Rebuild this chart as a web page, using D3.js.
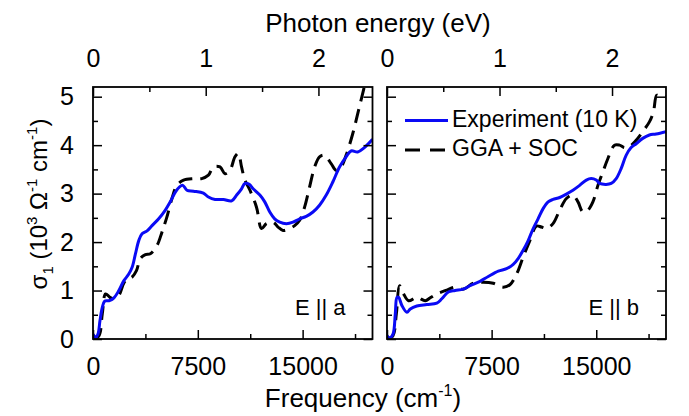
<!DOCTYPE html>
<html><head><meta charset="utf-8">
<script src="https://cdn.jsdelivr.net/npm/d3@7"></script>
<style>
html,body{margin:0;padding:0;background:#fff;}
text{font-family:"Liberation Sans",Arial,sans-serif;fill:#000;}
</style></head>
<body>
<svg id="chart" width="689" height="416"></svg>
<script>
// ---- data ----
const expA_x = [0,190,356,500,665,830,1140,1500,1850,2200,2560,2800,3040,3275,3510,3870,4225,4700,5175,5530,5890,6195,6430,6720,7190,7900,8260,8735,9330,9920,10280,10630,10870,11180,11460,11940,12290,12650,13000,13360,13840,14310,14790,15260,15740,16210,16690,17160,17640,18110,18470,18940,19420,20000];
const expA_y = [0.1,0.03,0.1,0.38,0.65,0.78,0.79,0.85,1.0,1.2,1.34,1.48,1.76,2.03,2.17,2.23,2.34,2.48,2.66,2.83,3.03,3.14,3.17,3.07,3.05,3.01,2.93,2.88,2.88,2.85,2.97,3.10,3.21,3.19,3.10,2.97,2.83,2.62,2.48,2.41,2.38,2.41,2.48,2.53,2.62,2.76,2.97,3.24,3.55,3.76,3.88,3.86,3.95,4.12];
const ggaA_x = [70,430,665,900,1210,1500,1850,2200,2445,2800,3110,3390,3750,4105,4580,4940,5290,5650,6000,6480,7190,7785,8260,8615,9090,9450,9800,10160,10400,10630,10870,11230,11700,12060,12410,12890,13240,13600,14070,14430,14790,15140,15500,15860,16210,16570,17040,17400,17750,18110,18590,19060,19420,20000];
const ggaA_y = [0,0.07,0.52,0.93,0.86,0.83,0.90,1.15,1.24,1.28,1.41,1.66,1.74,1.76,1.93,2.21,2.52,2.90,3.17,3.28,3.31,3.31,3.38,3.55,3.55,3.41,3.48,3.76,3.83,3.55,3.28,3.07,2.72,2.28,2.38,2.41,2.31,2.24,2.28,2.34,2.45,2.72,3.14,3.55,3.76,3.79,3.62,3.48,3.55,3.79,4.24,4.79,5.21,5.9];
const expB_x = [0,190,430,595,715,830,1070,1430,1670,2140,2860,3570,3930,4400,4880,5480,5950,6670,7260,7980,8570,9050,9400,9760,10120,10480,10830,11190,11550,11900,12380,12860,13330,13810,14290,14640,15000,15240,15710,16070,16430,16790,17140,17500,17860,18330,18810,19290,20000];
const expB_y = [0.07,0.02,0.1,0.52,0.86,0.86,0.69,0.55,0.62,0.68,0.71,0.74,0.83,0.97,1.0,1.03,1.10,1.19,1.29,1.40,1.45,1.54,1.66,1.83,2.03,2.28,2.48,2.69,2.83,2.88,2.92,2.99,3.07,3.17,3.28,3.31,3.28,3.21,3.19,3.21,3.31,3.52,3.79,3.95,4.03,4.14,4.21,4.23,4.28];
const ggaB_x = [50,430,670,900,1190,1550,2140,2740,3100,3570,4290,4880,5480,6190,6900,7620,8330,8810,9290,9760,10240,10710,11070,11430,11900,12380,12860,13330,13690,14050,14400,14760,15120,15480,15830,16310,16670,17020,17380,17860,18330,18810,19100,19330,19520,20000];
const ggaB_y = [0,0.07,0.52,1.10,0.93,0.79,0.86,0.79,0.85,0.93,1.01,1.07,1.03,1.15,1.17,1.15,1.07,1.12,1.34,1.69,2.03,2.33,2.31,2.28,2.38,2.66,2.90,2.97,2.83,2.62,2.66,2.83,3.17,3.45,3.72,4.00,4.00,3.95,3.97,4.10,4.28,4.48,4.69,5.03,5.01,5.0];

const freqMajor = [0,7500,15000];
const freqMinor = [3750,11250,18750];
const evMajor = [0,1,2];
const evMinor = [0.5,1.5];
const yMajor = [0,1,2,3,4,5];
const yMinor = [0.5,1.5,2.5,3.5,4.5];
const panelLabels = ["E || a","E || b"];
const legendLabels = ["Experiment (10 K)","GGA + SOC"];
const CM_PER_EV = 8065.54;

// ---- layout ----
const svg = d3.select("#chart");
const yTop = 87, yBot = 339;
const panels = [
  {x0:93, x1:372.5, exp:[expA_x,expA_y], gga:[ggaA_x,ggaA_y], label:panelLabels[0]},
  {x0:387, x1:666, exp:[expB_x,expB_y], gga:[ggaB_x,ggaB_y], label:panelLabels[1]}
];
const y = d3.scaleLinear().domain([0,5.2]).range([yBot,yTop]);
const FS = 25;

panels.forEach((p,i)=>{
  const x = d3.scaleLinear().domain([0,20000]).range([p.x0,p.x1]);
  const xe = d3.scaleLinear().domain([0,20000/CM_PER_EV]).range([p.x0,p.x1]);
  const g = svg.append("g");
  const cid = "clip"+i;
  svg.append("clipPath").attr("id",cid).append("rect")
    .attr("x",p.x0).attr("y",yTop).attr("width",p.x1-p.x0).attr("height",yBot-yTop);

  const line = d3.line().x(d=>x(d[0])).y(d=>y(d[1])).curve(d3.curveCatmullRom.alpha(0.5));
  const gga = p.gga[0].map((v,k)=>[v,p.gga[1][k]]);
  const exp = p.exp[0].map((v,k)=>[v,p.exp[1][k]]);
  g.append("path").attr("clip-path",`url(#${cid})`).attr("d",line(gga))
    .attr("fill","none").attr("stroke","#000").attr("stroke-width",3).attr("stroke-dasharray","14,8");
  g.append("path").attr("clip-path",`url(#${cid})`).attr("d",line(exp))
    .attr("fill","none").attr("stroke","#0a0af5").attr("stroke-width",3);

  // axes with inward ticks
  g.append("g").attr("transform",`translate(0,${yBot})`)
    .call(d3.axisBottom(x).tickValues(freqMajor).tickSize(-9).tickPadding(18).tickFormat(d3.format("d")));
  g.append("g").attr("transform",`translate(0,${yBot})`)
    .call(d3.axisBottom(x).tickValues(freqMinor).tickSize(-5).tickFormat(""));
  g.append("g").attr("transform",`translate(0,${yTop})`)
    .call(d3.axisTop(xe).tickValues(evMajor).tickSize(-9).tickPadding(20).tickFormat(d3.format("d")));
  g.append("g").attr("transform",`translate(0,${yTop})`)
    .call(d3.axisTop(xe).tickValues(evMinor).tickSize(-5).tickFormat(""));
  g.append("g").attr("transform",`translate(${p.x0},0)`)
    .call(d3.axisLeft(y).tickValues(yMajor).tickSize(-9).tickPadding(19).tickFormat(i===0?d3.format("d"):""));
  g.append("g").attr("transform",`translate(${p.x0},0)`)
    .call(d3.axisLeft(y).tickValues(yMinor).tickSize(-5).tickFormat(""));
  g.append("g").attr("transform",`translate(${p.x1},0)`)
    .call(d3.axisRight(y).tickValues(yMajor).tickSize(-9).tickFormat(""));
  g.append("g").attr("transform",`translate(${p.x1},0)`)
    .call(d3.axisRight(y).tickValues(yMinor).tickSize(-5).tickFormat(""));
  g.selectAll(".domain").remove();
  g.selectAll(".tick line").attr("stroke","#000").attr("stroke-width",1.5);
  g.selectAll(".tick text").style("font-family","Liberation Sans, Arial, sans-serif").style("font-size",FS+"px").attr("fill","#000");

  g.append("rect").attr("x",p.x0).attr("y",yTop).attr("width",p.x1-p.x0).attr("height",yBot-yTop)
    .attr("fill","none").attr("stroke","#000").attr("stroke-width",1.8);

  g.append("text").attr("x",p.x1-27).attr("y",315).attr("text-anchor","end")
    .style("font-size","22px").text(p.label);
});

// legend (right panel)
const lg = svg.append("g");
lg.append("line").attr("x1",405).attr("x2",448).attr("y1",120.5).attr("y2",120.5)
  .attr("stroke","#0a0af5").attr("stroke-width",3);
lg.append("line").attr("x1",405).attr("x2",450).attr("y1",150).attr("y2",150)
  .attr("stroke","#000").attr("stroke-width",3).attr("stroke-dasharray","15,10");
lg.append("text").attr("x",452).attr("y",127).style("font-size","23px").text(legendLabels[0]);
lg.append("text").attr("x",452).attr("y",155.5).style("font-size","23px").text(legendLabels[1]);

// axis titles
svg.append("text").attr("x",378).attr("y",32).attr("text-anchor","middle")
  .style("font-size","26px").text("Photon energy (eV)");
const xt = svg.append("text").attr("x",363).attr("y",407).attr("text-anchor","middle").style("font-size","26px");
xt.append("tspan").text("Frequency (cm");
xt.append("tspan").attr("dy",-11).style("font-size","16px").text("-1");
xt.append("tspan").attr("dy",11).text(")");

const yt = svg.append("text").attr("transform","translate(47,204) rotate(-90)")
  .attr("text-anchor","middle").style("font-size","24px");
yt.append("tspan").text("σ");
yt.append("tspan").attr("dy",6).style("font-size","15px").text("1");
yt.append("tspan").attr("dy",-6).text(" (10");
yt.append("tspan").attr("dy",-10).style("font-size","15px").text("3");
yt.append("tspan").attr("dy",10).text(" Ω");
yt.append("tspan").attr("dy",-10).style("font-size","15px").text("-1");
yt.append("tspan").attr("dy",10).text(" cm");
yt.append("tspan").attr("dy",-10).style("font-size","15px").text("-1");
yt.append("tspan").attr("dy",10).text(")");
</script>
</body></html>
